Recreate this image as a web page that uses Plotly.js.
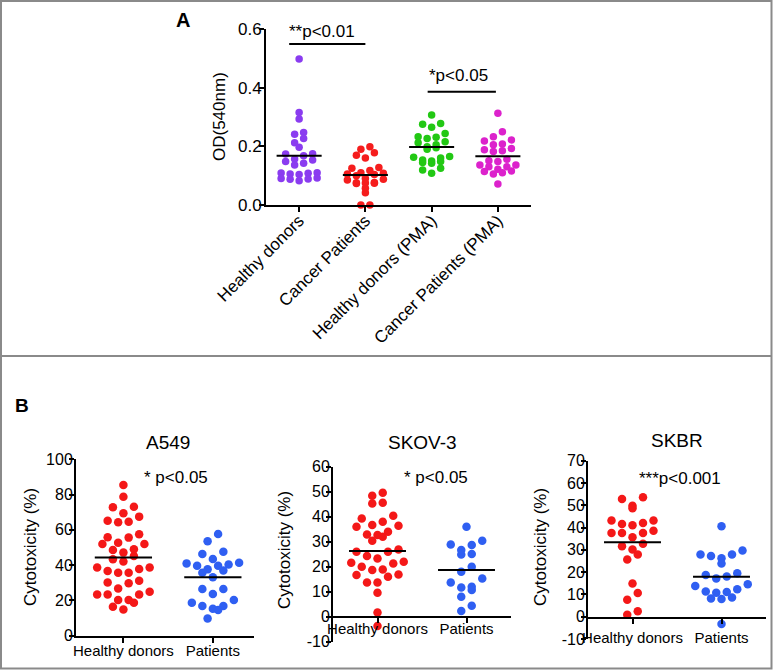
<!DOCTYPE html>
<html>
<head>
<meta charset="utf-8">
<script src="https://cdn.plot.ly/plotly-3.0.1.min.js"></script>
<style>html,body{margin:0;padding:0;background:#fff;}#chart{width:773px;height:670px;}</style>
</head>
<body>
<div id="chart"></div>
<script>
// ---------- Panel A data ----------
const categoriesA = ["Healthy donors", "Cancer Patients", "Healthy donors (PMA)", "Cancer Patients (PMA)"];
const healthyA = [0.498, 0.315, 0.293, 0.247, 0.241, 0.227, 0.212, 0.197, 0.175, 0.174, 0.168, 0.157, 0.153, 0.148, 0.142, 0.136, 0.110, 0.109, 0.108, 0.106, 0.104, 0.092, 0.090, 0.089, 0.088, 0.083];
const cancerA = [0.199, 0.190, 0.178, 0.170, 0.160, 0.128, 0.125, 0.118, 0.110, 0.108, 0.106, 0.104, 0.100, 0.090, 0.088, 0.085, 0.077, 0.076, 0.075, 0.074, 0.073, 0.057, 0.042, 0.0, 0.0];
const healthyPMA = [0.307, 0.278, 0.275, 0.265, 0.244, 0.233, 0.231, 0.227, 0.216, 0.212, 0.205, 0.199, 0.195, 0.190, 0.165, 0.163, 0.160, 0.153, 0.150, 0.148, 0.145, 0.142, 0.125, 0.119, 0.108];
const cancerPMA = [0.313, 0.250, 0.233, 0.222, 0.218, 0.208, 0.205, 0.193, 0.188, 0.185, 0.182, 0.156, 0.151, 0.148, 0.136, 0.136, 0.130, 0.130, 0.122, 0.116, 0.114, 0.110, 0.106, 0.072];
const meansA = [0.168, 0.102, 0.198, 0.166];
const yTicksA = [0, 0.2, 0.4, 0.6];

// ---------- Panel B data ----------
const categoriesB = ["Healthy donors", "Patients"];
const a549Healthy = [85.4, 78.8, 72.8, 73.1, 67.5, 64.6, 64.3, 65.2, 69.4, 52.7, 52.0, 57.5, 55.6, 55.8, 52.0, 49.0, 48.6, 47.1, 45.2, 42.0, 43.3, 38.6, 37.8, 35.7, 35.7, 36.7, 38.6, 31.2, 29.7, 30.1, 24.9, 23.4, 23.4, 23.4, 26.8, 20.2, 18.7, 14.9, 16.4, 20.2];
const a549Patients = [57.6, 53.5, 47.6, 46.3, 43.5, 41.4, 40.4, 39.7, 39.7, 41.0, 37.6, 35.7, 36.9, 33.1, 26.5, 26.5, 23.6, 18.7, 16.8, 15.3, 16.8, 20.2, 14.6, 9.8];
const a549Means = [44.4, 33.1];
const skovHealthy = [49.6, 45.6, 45.3, 48.4, 40.4, 39.3, 38.0, 36.4, 36.0, 36.7, 34.0, 32.7, 30.4, 32.0, 32.9, 26.0, 24.3, 23.3, 26.0, 26.9, 22.0, 21.3, 18.9, 18.7, 20.0, 21.6, 16.7, 13.7, 13.7, 16.0, 16.9, 9.6, 1.7, -3.7];
const skovPatients = [36.0, 28.9, 26.7, 30.4, 28.7, 24.9, 25.1, 20.0, 18.0, 12.0, 10.7, 13.7, 15.3, 11.7, 8.0, 4.4, 2.3];
const skovMeans = [26.3, 18.7];
const skbrHealthy = [53.6, 52.8, 49.8, 48.7, 43.2, 42.0, 43.2, 41.0, 41.6, 38.6, 37.6, 37.6, 37.6, 35.7, 32.7, 31.6, 30.2, 27.9, 25.7, 14.9, 10.6, 7.6, 0.9, 2.4];
const skbrPatients = [40.6, 27.9, 27.2, 29.7, 26.2, 27.9, 23.9, 19.5, 18.7, 17.2, 18.0, 13.8, 14.6, 11.3, 10.8, 11.1, 12.3, 8.2, 7.9, 8.6, -3.3];
const skbrMeans = [33.4, 17.9];
const yTicksA549 = [0, 20, 40, 60, 80, 100];
const yTicksSKOV = [-10, 0, 10, 20, 30, 40, 50, 60];
const yTicksSKBR = [-10, 0, 10, 20, 30, 40, 50, 60, 70];

// ---------- layout geometry ----------
const W = 773, H = 670;
const FONT = "Liberation Sans, Arial, Helvetica, sans-serif";
const ax = {
  A:  {xd: [266/W, 531/W], yd: [1-205/H, 1-29/H], xr: [-0.5, 3.5], yr: [0, 0.6]},
  B1: {xd: [76/W, 254/W],  yd: [1-635.7/H, 1-459.3/H], xr: [-0.53, 1.46], yr: [0, 100]},
  B2: {xd: [333/W, 511/W], yd: [1-641.7/H, 1-466.7/H], xr: [-0.5, 1.5], yr: [-10, 60]},
  B3: {xd: [588/W, 766/W], yd: [1-639/H, 1-460.7/H], xr: [-0.5, 1.5], yr: [-10, 70]}
};
function scales(a) {
  return {px: (a.xd[1]-a.xd[0])*W/(a.xr[1]-a.xr[0]), py: (a.yd[1]-a.yd[0])*H/(a.yr[1]-a.yr[0])};
}

// Prism-like row scatter: points with close values share a row, spread symmetrically
function rowSwarm(values, py, rowH, spacing, maxPerRow) {
  const idx = values.map((v, i) => i).sort((a, b) => values[b] - values[a]);
  const offs = new Array(values.length).fill(0);
  let row = [];
  const flush = () => {
    const n = row.length;
    // positions from outermost to centre, alternating right / left
    const pos = [];
    for (let k = 0; k < n; k++) pos.push(k - (n - 1) / 2);
    const order = [];
    let lo = 0, hi = n - 1, right = true;
    while (lo <= hi) { if (right) order.push(pos[hi--]); else order.push(pos[lo++]); right = !right; }
    row.forEach((i, k) => { offs[i] = order[k] * spacing; });
    row = [];
  };
  for (const i of idx) {
    if (row.length && ((values[row[0]] - values[i]) * py > rowH || row.length >= maxPerRow)) flush();
    row.push(i);
  }
  flush();
  return offs;
}

const traces = [];
function addGroup(values, catIdx, color, axKey, xa, ya, size, rowH, spacing, maxPerRow) {
  const s = scales(ax[axKey]);
  const offs = rowSwarm(values, s.py, rowH, spacing, maxPerRow);
  traces.push({
    type: "scatter", mode: "markers", xaxis: xa, yaxis: ya,
    x: values.map((v, i) => catIdx + offs[i] / s.px), y: values,
    marker: {color: color, size: size, line: {width: 0}},
    cliponaxis: false, showlegend: false, hoverinfo: "y"
  });
}
function addMean(m, catIdx, half, xa, ya) {
  traces.push({
    type: "scatter", mode: "lines", xaxis: xa, yaxis: ya,
    x: [catIdx - half, catIdx + half], y: [m, m],
    line: {color: "#000", width: 2}, cliponaxis: false, showlegend: false, hoverinfo: "skip"
  });
}

const colorsA = ["#8a3cf0", "#f51d1d", "#22c814", "#dc22cc"];
const groupsA = [healthyA, cancerA, healthyPMA, cancerPMA];
groupsA.forEach((g, i) => addGroup(g, i, colorsA[i], "A", "x", "y", 7.5, 5.5, 9, 5));
meansA.forEach((m, i) => addMean(m, i, 0.34, "x", "y"));

const RED = "#f41818", BLUE = "#2f5ff2";
addGroup(a549Healthy, 0, RED, "B1", "x2", "y2", 8.5, 9.5, 10.5, 6);
addGroup(a549Patients, 1, BLUE, "B1", "x2", "y2", 8.5, 9.5, 10.5, 6);
a549Means.forEach((m, i) => addMean(m, i, 0.32, "x2", "y2"));
addGroup(skovHealthy, 0, RED, "B2", "x3", "y3", 8.5, 9.5, 10.5, 6);
addGroup(skovPatients, 1, BLUE, "B2", "x3", "y3", 8.5, 9.5, 10.5, 6);
skovMeans.forEach((m, i) => addMean(m, i, 0.32, "x3", "y3"));
addGroup(skbrHealthy, 0, RED, "B3", "x4", "y4", 8.5, 9.5, 10.5, 6);
addGroup(skbrPatients, 1, BLUE, "B3", "x4", "y4", 8.5, 9.5, 10.5, 6);
skbrMeans.forEach((m, i) => addMean(m, i, 0.32, "x4", "y4"));

function xAxis(a, anchor, cats, fontSize, extra) {
  return Object.assign({
    domain: a.xd, range: a.xr, anchor: anchor, tickmode: "array",
    tickvals: cats.map((c, i) => i), ticktext: cats,
    ticks: "outside", ticklen: 5, tickwidth: 2, tickcolor: "#000",
    showline: true, linewidth: 2, linecolor: "#000",
    showgrid: false, zeroline: false, fixedrange: true,
    tickfont: {family: FONT, size: fontSize, color: "#000"}
  }, extra || {});
}
function yAxis(a, anchor, tv, fontSize, fmt, standoff) {
  return {
    domain: a.yd, range: a.yr, anchor: anchor, tickmode: "array",
    tickvals: tv, ticktext: tv.map(fmt),
    ticks: "outside", ticklen: 5, tickwidth: 2, tickcolor: "#000",
    showline: true, linewidth: 2, linecolor: "#000",
    showgrid: false, zeroline: false, fixedrange: true, ticklabelstandoff: standoff,
    tickfont: {family: FONT, size: fontSize, color: "#000"}
  };
}
const intFmt = v => String(v);

function txt(text, xref, x, yref, y, size, opts) {
  return Object.assign({text, xref, x, yref, y, showarrow: false,
    font: {family: FONT, size, color: "#000"}, xanchor: "center", yanchor: "middle"}, opts || {});
}

const layout = {
  width: W, height: H, margin: {l: 0, r: 0, t: 0, b: 0},
  paper_bgcolor: "#fff", plot_bgcolor: "rgba(0,0,0,0)",
  font: {family: FONT, color: "#000"}, showlegend: false,
  xaxis: xAxis(ax.A, "y", categoriesA, 17, {tickangle: -45, ticklabelstandoff: -8}),
  yaxis: yAxis(ax.A, "x", yTicksA, 17, v => v.toFixed(1), -6),
  xaxis2: xAxis(ax.B1, "y2", categoriesB, 15, {ticklabelstandoff: -5}),
  yaxis2: yAxis(ax.B1, "x2", yTicksA549, 16, intFmt, -7),
  xaxis3: xAxis(ax.B2, "free", categoriesB, 15, {position: 1 - 616.7/H, ticklabelstandoff: -7}),
  yaxis3: yAxis(ax.B2, "x3", yTicksSKOV, 16, intFmt, -7),
  xaxis4: xAxis(ax.B3, "free", categoriesB, 15, {position: 1 - 617.7/H, ticklabelstandoff: 1}),
  yaxis4: yAxis(ax.B3, "x4", yTicksSKBR, 16, intFmt, -7),
  shapes: [
    {type: "rect", xref: "paper", yref: "paper", x0: 1/W, x1: 771.5/W, y0: 1-668.5/H, y1: 1-1/H,
     line: {color: "#8a8a8a", width: 2}},
    {type: "line", xref: "paper", yref: "paper", x0: 1/W, x1: 771.5/W, y0: 1-356/H, y1: 1-356/H,
     line: {color: "#8a8a8a", width: 2}},
    {type: "line", xref: "x", yref: "y", x0: -0.15, x1: 1.0, y0: 0.549, y1: 0.549, line: {color: "#000", width: 2}},
    {type: "line", xref: "x", yref: "y", x0: 1.94, x1: 2.97, y0: 0.386, y1: 0.386, line: {color: "#000", width: 2}}
  ],
  annotations: [
    txt("<b>A</b>", "paper", 183/W, "paper", 1-20/H, 20),
    txt("<b>B</b>", "paper", 22/W, "paper", 1-405/H, 19),
    txt("**p<0.01", "x", 0.35, "y", 0.59, 17),
    txt("*p<0.05", "x", 2.41, "y", 0.44, 17),
    txt("OD(540nm)", "paper", 220/W, "paper", 1-117/H, 17, {textangle: -90}),
    txt("A549", "x2", 0.5, "paper", 1-442/H, 19),
    txt("* p<0.05", "x2", 0.59, "paper", 1-477/H, 17),
    txt("Cytotoxicity (%)", "paper", 30/W, "paper", 1-547/H, 17, {textangle: -90}),
    txt("SKOV-3", "x3", 0.5, "paper", 1-442/H, 19),
    txt("* p<0.05", "x3", 0.66, "paper", 1-477/H, 17),
    txt("Cytotoxicity (%)", "paper", 284/W, "paper", 1-550/H, 17, {textangle: -90}),
    txt("SKBR", "x4", 0.5, "paper", 1-440/H, 19),
    txt("***p<0.001", "x4", 0.53, "paper", 1-478.3/H, 17),
    txt("Cytotoxicity (%)", "paper", 540/W, "paper", 1-547/H, 17, {textangle: -90})
  ]
};

Plotly.newPlot("chart", traces, layout, {displayModeBar: false, staticPlot: true});
</script>
</body>
</html>
